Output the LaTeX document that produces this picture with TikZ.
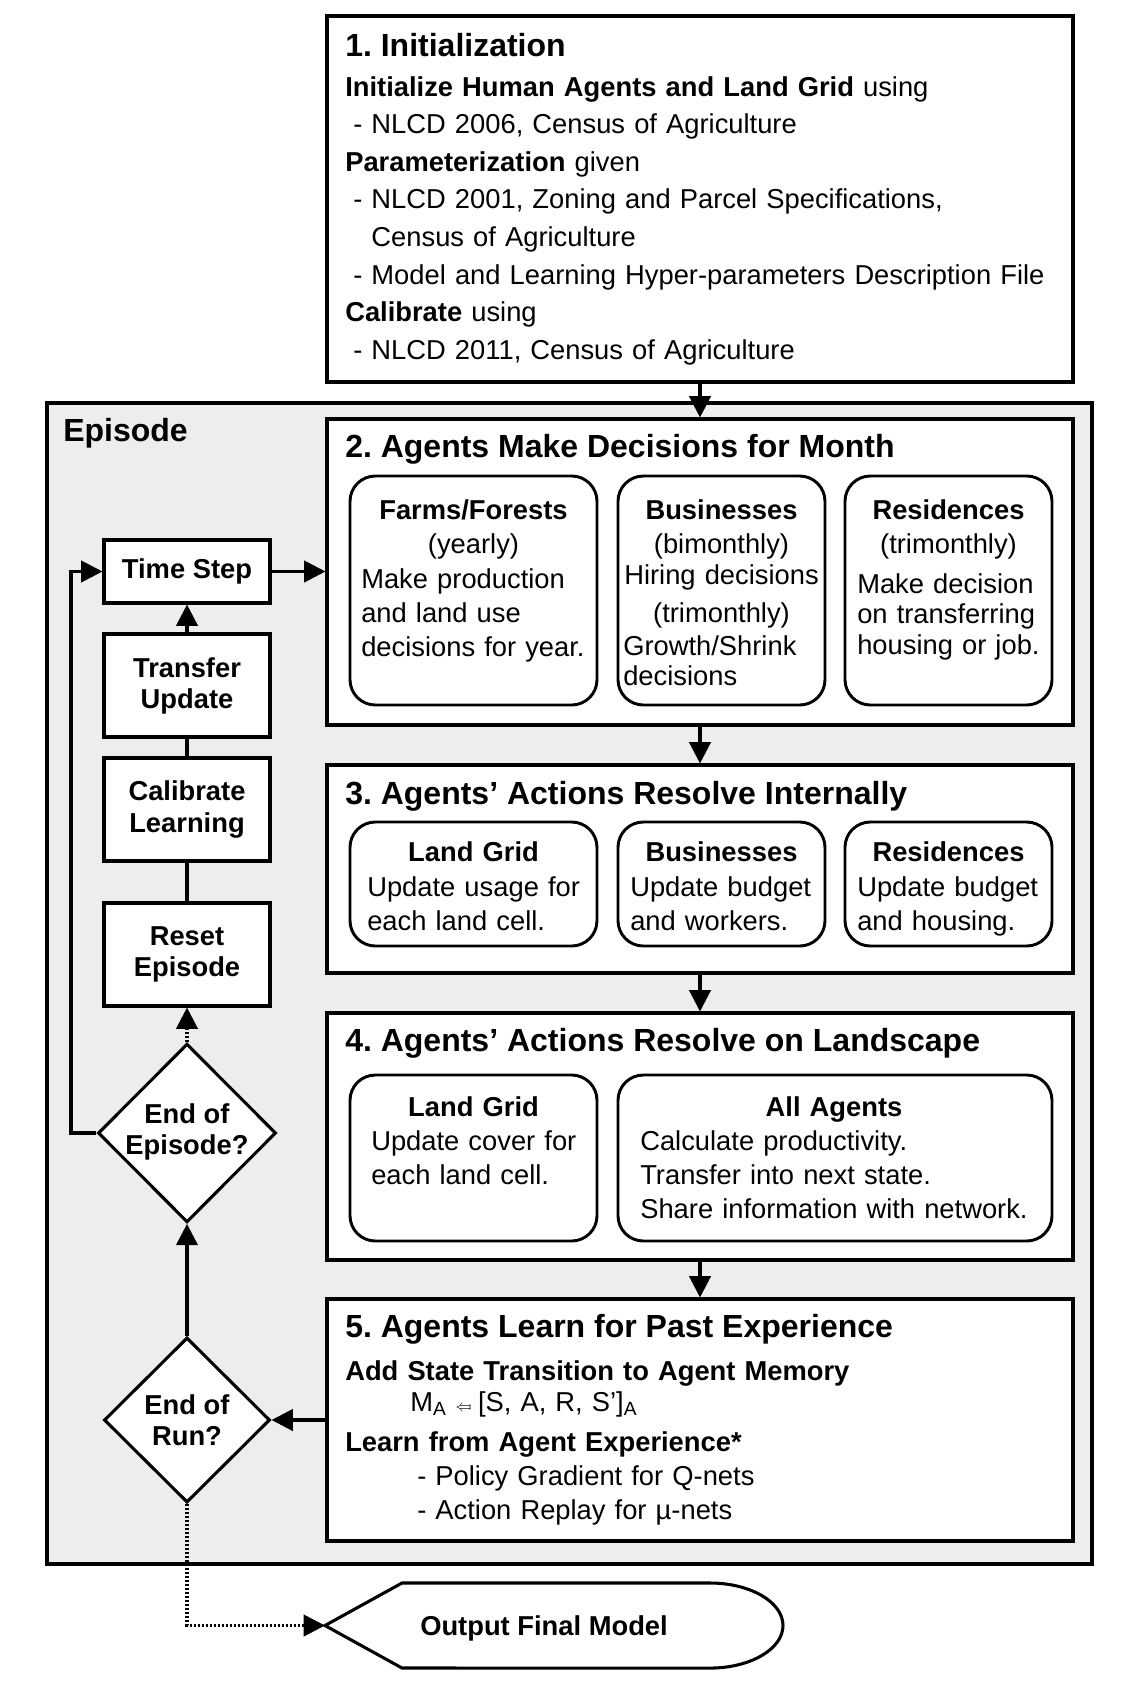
\documentclass[tikz,border=0pt]{standalone}
\usepackage{fontspec}
\setmainfont{Liberation Sans}
\usetikzlibrary{arrows.meta}
\usetikzlibrary{fit}
\usetikzlibrary{shapes.geometric}
\definecolor{epgray}{RGB}{237,237,237}
\newcommand{\bodyfont}{\fontsize{20.5}{25.7}\selectfont}
\newcommand{\titlefont}{\fontsize{24}{29}\selectfont}
\frenchspacing
\tikzset{
  frame/.style={draw, line width=2.3pt, fill=white, inner sep=0pt},
  decbox/.style={draw, line width=2.2pt, fill=white, rounded corners=19pt, inner sep=0pt},
  stepbox/.style={draw, line width=2.3pt, fill=white, inner sep=0pt, minimum width=124.5pt, minimum height=77.25pt, align=center, font=\fontsize{20.5}{23.3}\selectfont\bfseries},
  query/.style={draw, diamond, line width=2.3pt, fill=white, inner sep=0pt},
  qtxt/.style={inner sep=0pt, align=center, font=\fontsize{20.5}{23.3}\selectfont\bfseries},
  title/.style={anchor=base west, inner sep=0pt, font=\titlefont\bfseries},
  txt/.style={anchor=base west, inner sep=0pt, align=left, font=\bodyfont},
  head/.style={anchor=base, inner sep=0pt, align=center, font=\bodyfont},
  flow/.style={line width=2.3pt, -{Triangle[length=16pt,width=16pt]}},
  link/.style={line width=2.3pt},
  dotflow/.style={flow, dash pattern=on 1.6pt off 1.4pt}
}
\begin{document}
\begin{tikzpicture}[x=0.75pt,y=-0.75pt]
  \useasboundingbox (0,0) rectangle (1138,1682);
  \node[draw, line width=3.4pt, fill=epgray, inner sep=0pt, fit={(47,403) (1092,1564)}] (episode) {};
  \node[title] (eplabel) at (63,441.5) {Episode};

  \node[frame, line width=3pt, fit={(327,16) (1073,382)}] (init) {};
  \node[title] (inittitle) at (345,56.5) {1. Initialization};
  \node[txt, text width=540pt, font=\fontsize{20.5}{28.2}\selectfont] (initbody) at (345,96) {\textbf{Initialize Human Agents and Land Grid} using\\
    \hspace*{6pt}- NLCD 2006, Census of Agriculture\\
    \textbf{Parameterization} given\\
    \hspace*{6pt}- NLCD 2001, Zoning and Parcel Specifications,\\
    \hspace*{6pt}\phantom{- }Census of Agriculture\\
    \hspace*{6pt}- Model and Learning Hyper-parameters Description File\\
    \textbf{Calibrate} using\\
    \hspace*{6pt}- NLCD 2011, Census of Agriculture};

  \node[frame, fit={(327,419) (1073,725)}] (decide) {};
  \node[title] (decidetitle) at (345,457.5) {2. Agents Make Decisions for Month};
  \node[decbox, fit={(350,476) (597,705)}] (farms) {};
  \node[decbox, fit={(618,476) (825,705)}] (busdec) {};
  \node[decbox, fit={(845,476) (1052,705)}] (resdec) {};
  \node[head, text width=180pt] (farmshead) at (473.5,519) {\textbf{Farms/Forests}\\(yearly)};
  \node[txt, text width=180pt] (farmsbody) at (361,588) {Make production\\and land use\\decisions for year.};
  \node[head, text width=150pt] (bushead) at (721.5,519) {\textbf{Businesses}\\(bimonthly)\\[-2.5pt]Hiring decisions\\[2.8pt](trimonthly)};
  \node[txt, text width=150pt] (busbody) at (623,655) {Growth/Shrink\\[-2.5pt]decisions};
  \node[head, text width=150pt] (reshead) at (948.5,519) {\textbf{Residences}\\(trimonthly)};
  \node[txt, text width=150pt] (resbody) at (857,593) {Make decision\\[-3pt]on transferring\\[-2.5pt]housing or job.};

  \node[frame, fit={(327,765) (1073,973)}] (resolve) {};
  \node[title] (resolvetitle) at (345,804.5) {3. Agents’ Actions Resolve Internally};
  \node[decbox, fit={(350,822) (597,946)}] (landint) {};
  \node[decbox, fit={(618,822) (825,946)}] (busint) {};
  \node[decbox, fit={(845,822) (1052,946)}] (resint) {};
  \node[head, text width=180pt] (landinthead) at (473.5,861) {\textbf{Land Grid}};
  \node[txt, text width=180pt] (landintbody) at (367,896) {Update usage for\\each land cell.};
  \node[head, text width=150pt] (businthead) at (721.5,861) {\textbf{Businesses}};
  \node[txt, text width=150pt] (busintbody) at (630,896) {Update budget\\and workers.};
  \node[head, text width=150pt] (resinthead) at (948.5,861) {\textbf{Residences}};
  \node[txt, text width=150pt] (resintbody) at (857,896) {Update budget\\and housing.};

  \node[frame, fit={(327,1013) (1073,1260)}] (landscape) {};
  \node[title] (landscapetitle) at (345,1051.5) {4. Agents’ Actions Resolve on Landscape};
  \node[decbox, fit={(350,1075) (597,1241)}] (landls) {};
  \node[decbox, fit={(618,1075) (1052,1241)}] (allls) {};
  \node[head, text width=180pt] (landlshead) at (473.5,1116) {\textbf{Land Grid}};
  \node[txt, text width=180pt] (landlsbody) at (371,1150) {Update cover for\\each land cell.};
  \node[head, text width=300pt] (alllshead) at (834,1116) {\textbf{All Agents}};
  \node[txt, text width=320pt] (alllsbody) at (640,1150) {Calculate productivity.\\Transfer into next state.\\Share information with network.};

  \node[frame, fit={(327,1299) (1073,1541)}] (learn) {};
  \node[title] (learntitle) at (345,1337.5) {5. Agents Learn for Past Experience};
  \node[txt, text width=540pt] (learnbody) at (345,1380) {\textbf{Add State Transition to Agent Memory}\\[-2.45pt]
    \hspace*{48.75pt}M\textsubscript{A} {\fontsize{12}{12}\selectfont$\Leftarrow\mkern-3mu\mapstochar$} [S, A, R, S’]\textsubscript{A}\\[4.3pt]
    \textbf{Learn from Agent Experience*}\\
    \hspace*{54pt}- Policy Gradient for Q-nets\\
    \hspace*{54pt}- Action Replay for µ-nets};

  \node[stepbox, minimum height=47.25pt] (timestep) at (187,571.5) {Time Step};
  \node[stepbox] (transfer) at (187,685.5) {Transfer\\Update};
  \node[stepbox] (calib) at (187,809.5) {Calibrate\\Learning};
  \node[stepbox] (reset) at (187,954.5) {Reset\\Episode};
  \node[query, minimum width=133.5pt, minimum height=134pt] (endep) at (187,1133) {};
  \node[qtxt] (endeptxt) at (187,1132) {End of\\Episode?};
  \node[query, minimum width=124.5pt, minimum height=123.75pt] (endrun) at (187,1420) {};
  \node[qtxt] (endruntxt) at (187,1420) {End of\\Run?};

  \draw[line width=2.3pt, fill=white] (325,1625.5) -- (402,1583) -- (710,1583)
    arc[start angle=90, end angle=-90, x radius=54.75pt, y radius=31.9pt] -- (402,1668) -- cycle;
  \node[inner sep=0pt, font=\bodyfont\bfseries] (final) at (544,1628.5) {Output Final Model};
  \coordinate (outtip) at (325,1625.5);
  \coordinate (eploop) at (71,1133);

  \draw[flow] (init) -- (decide);
  \draw[flow] (decide) -- (resolve);
  \draw[flow] (resolve) -- (landscape);
  \draw[flow] (landscape) -- (learn);
  \draw[flow] (learn.west) -- (endrun.east);
  \draw[flow] (endrun) -- (endep);
  \draw[dotflow] (endep) -- (reset);
  \draw[link] (reset) -- (calib);
  \draw[link] (calib) -- (transfer);
  \draw[flow] (transfer) -- (timestep);
  \draw[flow] (timestep.east) -- (timestep.east -| decide.west);
  \draw[flow] (endep.west) -- (eploop) |- (timestep.west);
  \draw[dotflow] (endrun.south) |- (outtip);
\end{tikzpicture}
\end{document}
